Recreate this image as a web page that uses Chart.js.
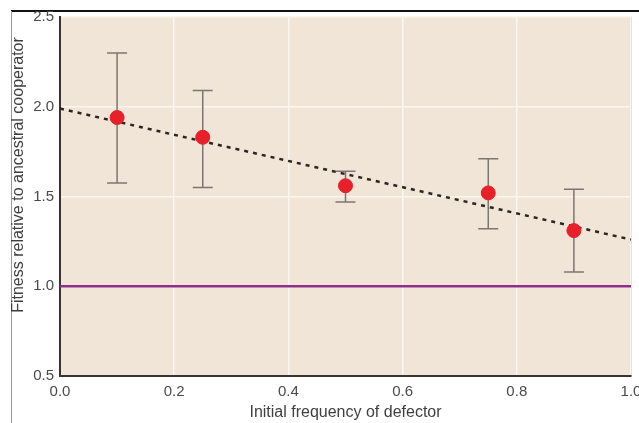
<!DOCTYPE html>
<html>
<head>
<meta charset="utf-8">
<script src="https://cdn.jsdelivr.net/npm/chart.js@4"></script>
<style>
html,body{margin:0;padding:0;background:#fff;}
#wrap{width:639px;height:423px;position:relative;}
</style>
</head>
<body>
<div id="wrap"><canvas id="c" width="639" height="423"></canvas></div>
<script>
const freqs = [0.1, 0.25, 0.5, 0.75, 0.9];
const fitness = [1.94, 1.83, 1.56, 1.52, 1.31];
const errLow = [1.575, 1.55, 1.47, 1.32, 1.08];
const errHigh = [2.30, 2.09, 1.64, 1.71, 1.54];
const trendX = [0.0, 1.0];
const trendY = [1.99, 1.26];
const refX = [0.0, 1.0];
const refY = [1.0, 1.0];
const xTicks = [0.0, 0.2, 0.4, 0.6, 0.8, 1.0];
const yTicks = [0.5, 1.0, 1.5, 2.0, 2.5];
const xTitle = 'Initial frequency of defector';
const yTitle = 'Fitness relative to ancestral cooperator';

const pts = freqs.map((x,i)=>({x, y: fitness[i]}));

const bgPlugin = {
  id: 'bg',
  beforeDraw(chart){
    const {ctx, chartArea:a} = chart;
    ctx.save();
    ctx.fillStyle = '#f1e5d8';
    ctx.fillRect(a.left, a.top, a.right-a.left, a.bottom-a.top);
    ctx.strokeStyle = '#111';
    ctx.lineWidth = 2;
    ctx.beginPath(); ctx.moveTo(11, 11); ctx.lineTo(639, 11); ctx.stroke();
    ctx.strokeStyle = '#999';
    ctx.lineWidth = 1;
    ctx.beginPath(); ctx.moveTo(11.5, 11); ctx.lineTo(11.5, 423); ctx.stroke();
    ctx.strokeStyle = '#d9cdc0';
    ctx.beginPath(); ctx.moveTo(a.right+0.5, a.top); ctx.lineTo(a.right+0.5, a.bottom); ctx.stroke();
    ctx.restore();
  },
  afterDraw(chart){
    const {ctx} = chart;
    ctx.save();
    ctx.translate(19, 175);
    ctx.rotate(-Math.PI/2);
    ctx.fillStyle = '#3f3f3f';
    ctx.font = '16px "Liberation Sans"';
    ctx.textAlign = 'center';
    ctx.textBaseline = 'middle';
    ctx.fillText(yTitle, 0, 0);
    ctx.restore();
  }
};

const errPlugin = {
  id: 'err',
  beforeDatasetDraw(chart, args){
    if (args.index !== 2) return;
    const {ctx, scales:{x, y}} = chart;
    ctx.save();
    ctx.strokeStyle = '#7d7670';
    ctx.lineWidth = 1.5;
    freqs.forEach((f,i)=>{
      const px = x.getPixelForValue(f);
      const y1 = y.getPixelForValue(errLow[i]);
      const y2 = y.getPixelForValue(errHigh[i]);
      ctx.beginPath();
      ctx.moveTo(px, y1); ctx.lineTo(px, y2);
      ctx.moveTo(px-10, y1); ctx.lineTo(px+10, y1);
      ctx.moveTo(px-10, y2); ctx.lineTo(px+10, y2);
      ctx.stroke();
    });
    ctx.restore();
  }
};

new Chart(document.getElementById('c'), {
  type: 'scatter',
  data: {
    datasets: [
      {
        label: 'ref',
        data: refX.map((x,i)=>({x, y: refY[i]})),
        showLine: true,
        borderColor: '#8e2f8c',
        borderWidth: 2.5,
        pointRadius: 0,
        order: 3
      },
      {
        label: 'trend',
        data: trendX.map((x,i)=>({x, y: trendY[i]})),
        showLine: true,
        borderColor: '#2b2622',
        borderWidth: 2.5,
        borderDash: [4, 5],
        pointRadius: 0,
        order: 2
      },
      {
        label: 'fitness',
        data: pts,
        backgroundColor: '#e8202a',
        borderColor: '#e8202a',
        pointRadius: 7,
        order: 1
      }
    ]
  },
  options: {
    responsive: false,
    animation: false,
    devicePixelRatio: 1,
    layout: { padding: { left: 0, right: 7, top: 17, bottom: 0 } },
    plugins: { legend: { display: false }, tooltip: { enabled: false } },
    scales: {
      x: {
        type: 'linear',
        min: 0, max: 1,
        afterBuildTicks(s){ s.ticks = xTicks.map(v=>({value:v})); },
        afterFit(s){ s.height = 47; s.paddingLeft = 0; s.paddingRight = 0; },
        ticks: {
          maxRotation: 0,
          padding: 7,
          color: '#4a4a4a',
          font: { family: 'Liberation Sans', size: 15 },
          callback: v => Number(v).toFixed(1)
        },
        grid: { color: '#fbf6f0', lineWidth: 1.5, drawTicks: false },
        border: { color: '#3a3330', width: 2 },
        title: {
          display: true,
          text: xTitle,
          color: '#3f3f3f',
          font: { family: 'Liberation Sans', size: 16 },
          padding: { top: 2, bottom: 1 }
        }
      },
      y: {
        type: 'linear',
        min: 0.5, max: 2.5,
        afterBuildTicks(s){ s.ticks = yTicks.map(v=>({value:v})); },
        afterFit(s){ s.width = 60; s.paddingTop = 0; s.paddingBottom = 0; },
        ticks: {
          padding: 6,
          color: '#4a4a4a',
          font: { family: 'Liberation Sans', size: 15 },
          callback: v => Number(v).toFixed(1)
        },
        grid: { color: '#fbf6f0', lineWidth: 1.5, drawTicks: false },
        border: { color: '#3a3330', width: 2 },
        title: { display: false }
      }
    }
  },
  plugins: [bgPlugin, errPlugin]
});
</script>
</body>
</html>
